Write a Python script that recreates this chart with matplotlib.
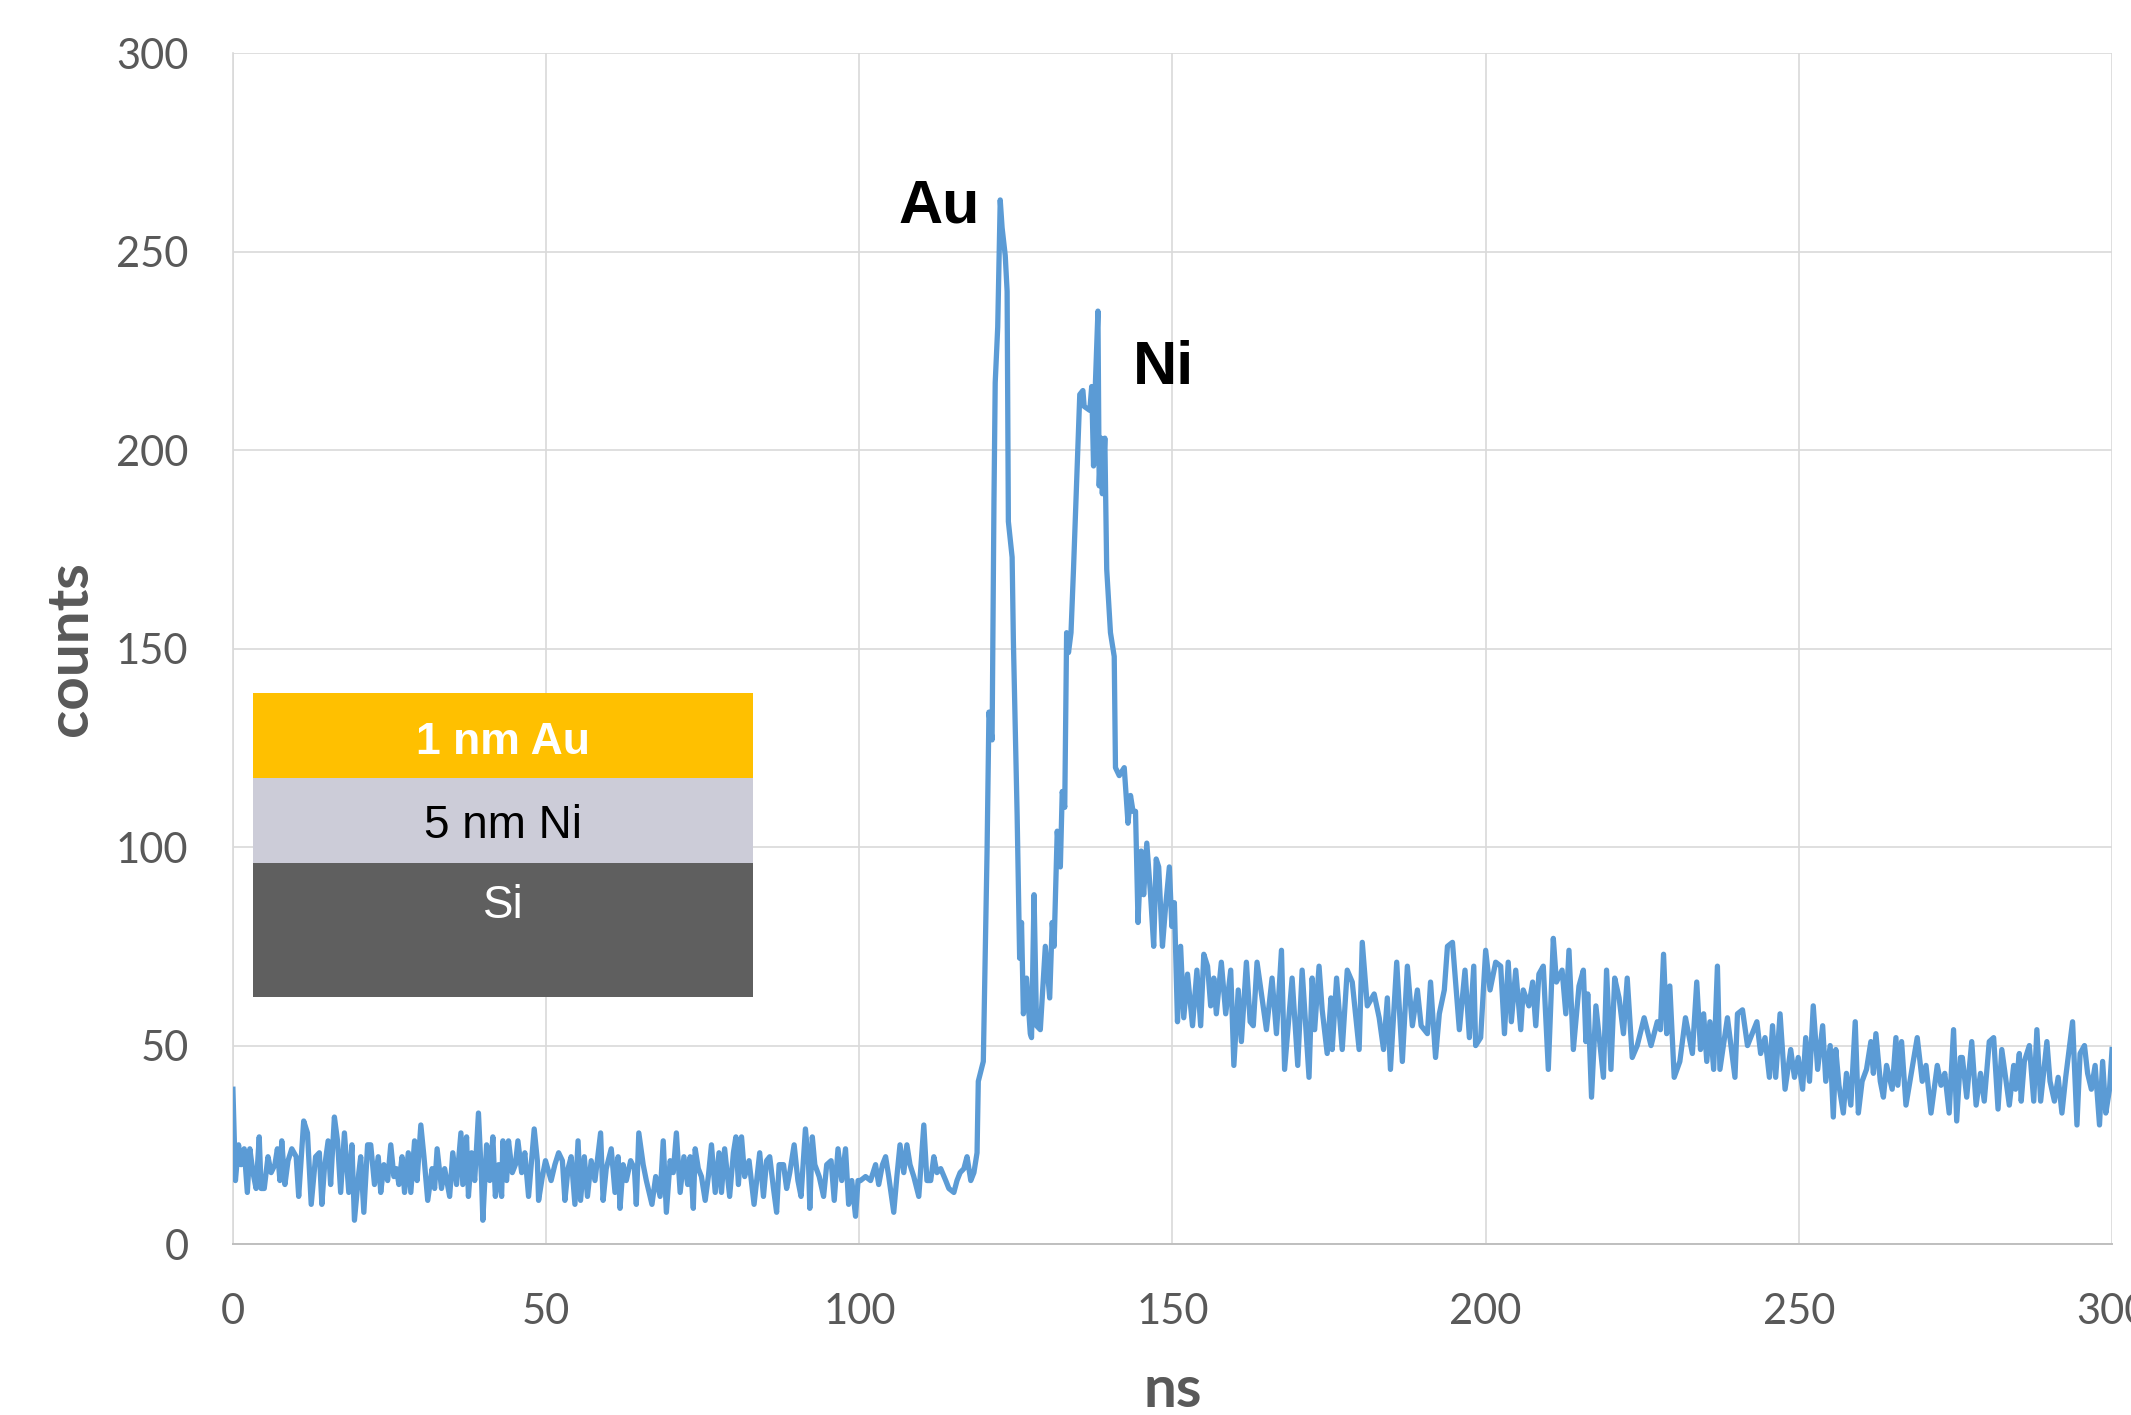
import numpy as np
import matplotlib
matplotlib.use("Agg")
import matplotlib.pyplot as plt
from matplotlib.patches import Rectangle

ns_a = [0.0, 0.4, 0.9, 1.3, 1.8, 2.3, 2.7, 3.2, 3.7, 4.2, 4.5, 5.0, 5.6, 6.1, 6.7, 7.1, 7.5, 7.8, 8.3, 8.8,
        9.4, 10.1, 10.5, 11.3, 11.9, 12.5, 13.2, 13.8, 14.2, 14.6, 15.2, 15.6, 16.2, 16.7, 17.2, 17.8, 18.5,
        19.0, 19.4, 20.1, 20.4, 20.9, 21.5, 22.0, 22.6, 23.2, 23.6, 24.1, 24.7, 25.2, 25.7, 26.1, 26.5, 27.0,
        27.4, 28.0, 28.4, 29.0, 29.4, 30.0, 30.5, 31.1, 31.8, 32.2, 32.6]
counts_a = [39, 16, 25, 20, 24, 13, 24, 18, 14, 27, 14, 14, 22, 18, 20, 24, 16, 26, 15, 21,
            24, 22, 12, 31, 28, 10, 22, 23, 10, 19, 26, 15, 32, 26, 13, 28, 13,
            25, 6, 18, 22, 8, 25, 25, 15, 22, 13, 20, 16, 25, 17, 19, 15, 22,
            13, 23, 13, 26, 16, 30, 22, 11, 19, 14, 24]

ns_b = [33.3, 33.8, 34.6, 35.1, 35.7, 36.4, 36.7, 37.3, 37.6, 38.1, 38.6, 39.2, 39.7, 39.9, 40.5, 41.0,
        41.5, 41.9, 42.4, 42.9, 43.1, 43.7, 44.0, 44.6, 45.1, 45.5, 46.1, 46.6, 47.2, 48.1, 48.6, 48.8,
        49.4, 49.9, 50.8, 51.4, 52.0, 52.6, 53.0, 53.5, 54.0, 54.6, 55.1, 55.5, 56.1, 56.6, 57.2, 57.8,
        58.7, 59.1, 59.6, 60.4, 61.0, 61.5, 61.8, 62.3, 62.8, 63.5, 64.1, 64.4, 64.8, 65.5, 66.0]
counts_b = [14, 19, 12, 23, 15, 28, 15, 27, 12, 23, 16, 33, 16, 6, 25, 16,
            27, 12, 20, 12, 26, 16, 26, 18, 20, 26, 18, 23, 12, 29, 21, 11,
            17, 21, 16, 20, 23, 21, 11, 19, 22, 10, 26, 11, 22, 12, 21, 16,
            28, 11, 19, 24, 13, 22, 9, 20, 16, 21, 19, 10, 28, 20, 16]

ns_c = [66.9, 67.5, 68.2, 68.7, 69.2, 69.8, 70.3, 70.8, 71.4, 72.0, 72.6, 73.0, 73.5, 73.8, 74.3, 74.8,
        75.4, 75.9, 76.4, 77.0, 77.6, 78.0, 78.5, 79.3, 79.9, 80.3, 80.7, 81.2, 81.7, 82.4, 83.2, 84.1,
        84.7, 85.2, 85.7, 86.3, 86.8, 87.2, 87.9, 88.4, 88.9, 89.6, 90.2, 90.7, 91.4, 91.9, 92.1, 92.5,
        92.9, 93.6, 94.3, 94.8, 95.5, 96.0, 96.6, 97.2, 97.8, 98.3, 98.8, 99.4, 99.8]
counts_c = [10, 17, 12, 26, 8, 21, 18, 28, 13, 22, 15, 22, 9, 24, 19, 17,
            11, 17, 25, 13, 23, 13, 24, 12, 23, 27, 15, 27, 17, 21, 10, 23,
            12, 21, 22, 14, 8, 20, 20, 14, 18, 25, 16, 12, 29, 20, 9, 27,
            20, 17, 12, 20, 21, 11, 24, 16, 24, 10, 16, 7, 16]

# zone des pics Au et Ni
ns_d = [100.2, 101.0, 101.8, 102.6, 103.1, 103.7, 104.2, 104.7, 105.5, 106.0, 106.5, 107.1, 107.6, 108.1,
        108.7, 109.5, 110.3, 110.8, 111.4, 111.9, 112.4, 113.0, 113.8, 114.3, 115.1, 115.6, 116.1, 116.7,
        117.2, 117.8, 118.3, 118.8,
        119.0, 119.8, 120.4, 120.7, 121.2, 121.5, 121.7, 122.1, 122.5, 122.8, 123.3, 123.6, 123.8, 124.4,
        124.6, 125.2, 125.6, 125.9, 126.2, 126.7, 127.3, 127.5, 127.9, 128.3, 128.9, 129.7, 130.4, 130.8,
        131.1, 131.6, 132.1, 132.4, 132.8, 133.1, 133.4, 133.8, 134.2, 134.8, 135.2, 135.7, 135.9, 136.8,
        137.1, 137.4, 137.7, 138.1, 138.3, 138.6, 138.8, 139.2, 139.5, 140.1, 140.7, 140.9, 141.5, 142.3,
        142.9, 143.3, 143.7, 144.1, 144.5, 145.0, 145.4, 145.9, 146.5, 147.0, 147.4, 147.8, 148.4, 148.9,
        149.5, 149.9, 150.3]
counts_d = [16, 17, 16, 20, 15, 20, 22, 17, 8, 17, 25, 18, 25, 20,
            17, 12, 30, 16, 16, 22, 18, 19, 16, 14, 13, 16, 18, 19,
            22, 16, 18, 23,
            41, 46, 99, 134, 127, 187, 217, 231, 263, 256, 249, 240, 182, 173,
            152, 108, 72, 81, 58, 67, 53, 52, 88, 55, 54, 75, 62, 81,
            75, 104, 95, 114, 110, 154, 149, 154, 170, 196, 214, 215, 211, 210,
            216, 196, 217, 235, 191, 203, 189, 203, 170, 154, 148, 120, 118, 120,
            106, 113, 109, 109, 81, 99, 88, 101, 88, 75, 97, 95, 75, 85,
            95, 80, 86]

ns_e = [150.8, 151.3, 151.8, 152.4, 153.2, 153.9, 154.5, 155.0, 155.6, 156.1, 156.6, 157.0, 157.8, 158.5,
        159.3, 159.8, 160.5, 161.0, 161.8, 162.4, 162.9, 163.5, 165.0, 165.9, 166.6, 167.4, 167.9, 169.1,
        170.0, 170.7, 171.8, 172.3, 172.7, 173.4, 173.9, 174.7, 175.3, 175.5, 176.2, 177.1, 177.9, 178.7,
        179.8, 180.3, 181.1, 182.2, 183.0, 183.7, 184.3, 184.8, 185.8, 186.7, 187.5, 188.3, 189.1, 189.7,
        190.7, 191.2, 192.0, 192.6, 193.4, 193.9, 194.7, 195.8, 196.7, 197.4, 198.1, 198.4, 199.2]
counts_e = [56, 75, 57, 68, 55, 69, 55, 73, 70, 60, 67, 58, 71, 58,
            69, 45, 64, 51, 71, 56, 55, 71, 54, 67, 53, 74, 44, 67,
            45, 69, 42, 67, 54, 70, 59, 48, 62, 49, 67, 49, 69, 66,
            49, 76, 60, 63, 57, 49, 62, 44, 71, 46, 70, 55, 64, 55,
            53, 66, 47, 58, 64, 75, 76, 54, 69, 52, 70, 50, 52]

ns_f = [200.0, 200.7, 201.6, 202.4, 203.0, 203.6, 204.1, 204.8, 205.6, 206.0, 206.9, 207.5, 208.0, 208.5,
        209.2, 210.0, 210.8, 211.3, 212.2, 212.8, 213.3, 214.0, 214.9, 215.6, 216.0, 216.3, 216.9, 217.6,
        218.8, 219.3, 220.0, 220.6, 221.3, 222.0, 222.6, 223.4, 224.2, 225.3, 226.4, 227.4, 227.9, 228.4,
        228.9, 229.4, 230.1, 231.0, 231.9, 233.0, 233.7, 234.3, 234.8, 235.3, 235.8, 236.4, 237.0, 237.4,
        238.6, 239.8, 240.2, 241.0, 241.8, 243.3, 243.9, 244.6, 245.3, 245.8, 246.3, 247.0, 247.8, 248.7]
counts_f = [74, 64, 71, 70, 53, 71, 56, 69, 54, 64, 60, 66, 55, 68,
            70, 44, 77, 66, 69, 58, 74, 49, 65, 69, 51, 63, 37, 60,
            42, 69, 44, 67, 62, 53, 67, 47, 50, 57, 50, 56, 54, 73,
            53, 65, 42, 46, 57, 48, 66, 49, 58, 46, 56, 44, 70, 44,
            57, 42, 58, 59, 50, 56, 48, 52, 42, 55, 42, 58, 39, 49]

ns_g = [249.3, 249.9, 250.6, 251.1, 251.7, 252.3, 253.0, 253.8, 254.3, 255.0, 255.5, 255.9, 256.4, 257.1,
        257.6, 258.3, 259.0, 259.5, 260.1, 260.8, 261.5, 261.9, 262.3, 263.0, 263.5, 264.0, 264.9, 265.5,
        265.8, 266.4, 267.1, 268.9, 269.7, 270.3, 271.1, 272.1, 272.7, 273.3, 274.0, 274.7, 275.2, 275.8,
        276.1, 276.8, 277.6, 278.3, 279.0, 279.6, 280.4, 281.1, 281.8, 282.4, 283.6, 284.3, 284.6, 285.2,
        285.5, 286.0, 286.8, 287.5, 288.0, 288.6, 289.6, 290.1, 290.8, 291.4, 292.0, 292.6, 293.7, 294.4,
        294.9, 295.6, 296.1, 296.7, 297.3, 298.0, 298.5, 299.0, 299.6, 300.0]
counts_g = [42, 47, 39, 52, 41, 60, 44, 55, 41, 50, 32, 49, 40, 33,
            43, 35, 56, 33, 41, 44, 51, 43, 53, 41, 37, 45, 39, 52,
            40, 51, 35, 52, 41, 45, 33, 45, 40, 43, 33, 54, 31, 47,
            47, 37, 51, 35, 43, 36, 51, 52, 34, 49, 35, 45, 39, 48,
            36, 46, 50, 36, 54, 36, 51, 41, 36, 42, 33, 42, 56, 30,
            48, 50, 43, 39, 45, 30, 46, 33, 39, 49]

ns = np.array(ns_a + ns_b + ns_c + ns_d + ns_e + ns_f + ns_g)
counts = np.array(counts_a + counts_b + counts_c + counts_d + counts_e + counts_f + counts_g)

x_ticks = [0, 50, 100, 150, 200, 250, 300]
y_ticks = [0, 50, 100, 150, 200, 250, 300]

# couches de l'échantillon (texte, couleur de fond, couleur du texte, gras)
couches = [("1 nm Au", "#FFC000", "white", "bold"),
           ("5 nm Ni", "#CCCCD8", "black", "normal"),
           ("Si", "#5F5F5F", "white", "normal")]

gris = "#595959"

fig = plt.figure(figsize=(21.31, 14.15), dpi=100)
ax = fig.add_axes([0.1093, 0.1208, 0.8818, 0.8417])

ax.plot(ns, counts, color="#5B9BD5", lw=3.8, zorder=3, solid_joinstyle="round")

ax.set_xlim(0, 300)
ax.set_ylim(0, 300)
ax.set_xticks(x_ticks)
ax.set_yticks(y_ticks)
ax.grid(True, color="#D9D9D9", lw=1.2, zorder=0)
ax.set_axisbelow(True)
for s in ["top", "right"]:
    ax.spines[s].set_visible(False)
ax.spines["left"].set_color("#D9D9D9")
ax.spines["left"].set_linewidth(1.2)
ax.spines["bottom"].set_color("#BFBFBF")
ax.spines["bottom"].set_linewidth(1.4)
ax.tick_params(axis="both", length=0, labelsize=30, labelcolor=gris)
ax.tick_params(axis="y", pad=32)
ax.tick_params(axis="x", pad=35)
for lab in ax.get_xticklabels() + ax.get_yticklabels():
    lab.set_family(["Lato", "DejaVu Sans"])

ax.set_xlabel("ns", fontsize=42, fontweight="bold", color=gris, family=["Lato", "DejaVu Sans"])
ax.set_ylabel("counts", fontsize=42, fontweight="bold", color=gris, family=["Lato", "DejaVu Sans"])
ax.xaxis.set_label_coords(0.5, -0.1226)
ax.xaxis.label.set_verticalalignment("center")
ax.yaxis.set_label_coords(-0.0862, 0.5)
ax.yaxis.label.set_verticalalignment("center")

# étiquettes des pics
ax.text(112.8, 257.2, "Au", fontsize=44, fontweight="bold", color="black",
        family=["Liberation Sans", "DejaVu Sans"], ha="center", va="baseline")
ax.text(148.6, 216.7, "Ni", fontsize=44, fontweight="bold", color="black",
        family=["Liberation Sans", "DejaVu Sans"], ha="center", va="baseline")

# schéma de l'échantillon
x0, larg = 0.0109, 0.2661
bords = [0.4626, 0.3913, 0.3199, 0.2074]
bases = [0.4114, 0.3406, 0.2735]
for i, (txt, fond, coul, poids) in enumerate(couches):
    ax.add_patch(Rectangle((x0, bords[i + 1]), larg, bords[i] - bords[i + 1],
                           transform=ax.transAxes, facecolor=fond, edgecolor="none", zorder=4))
    ax.text(x0 + larg / 2, bases[i], txt, transform=ax.transAxes, fontsize=33 if poids == "normal" else 32,
            fontweight=poids, color=coul, family=["Liberation Sans", "DejaVu Sans"],
            ha="center", va="baseline", zorder=5)

fig.savefig("out.png", dpi=100, facecolor="white")
